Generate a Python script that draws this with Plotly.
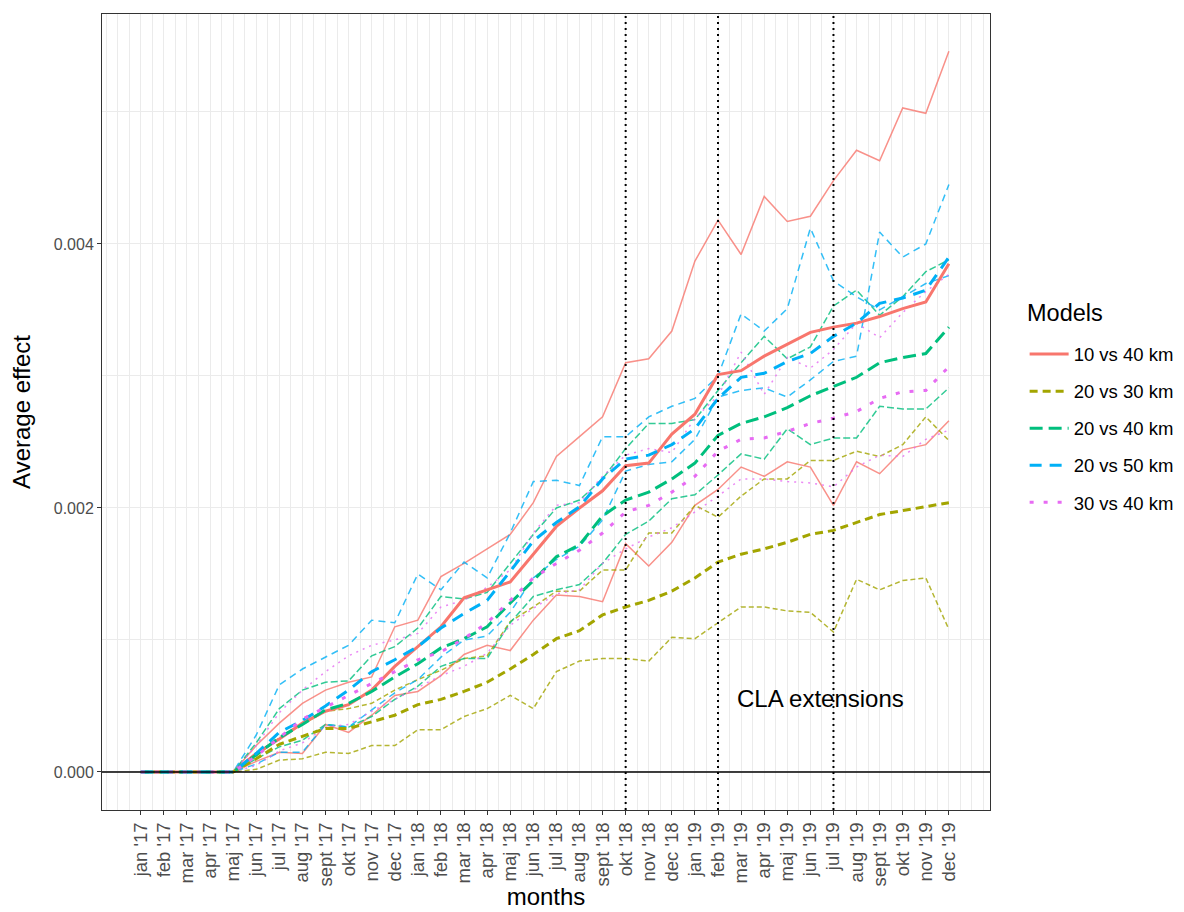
import plotly.graph_objects as go

# Month axis (Danish month abbreviations)
months = [
    "jan '17", "feb '17", "mar '17", "apr '17", "maj '17", "jun '17",
    "jul '17", "aug '17", "sept '17", "okt '17", "nov '17", "dec '17",
    "jan '18", "feb '18", "mar '18", "apr '18", "maj '18", "jun '18",
    "jul '18", "aug '18", "sept '18", "okt '18", "nov '18", "dec '18",
    "jan '19", "feb '19", "mar '19", "apr '19", "maj '19", "jun '19",
    "jul '19", "aug '19", "sept '19", "okt '19", "nov '19", "dec '19",
]
x_idx = list(range(len(months)))

# Average effect, in units of 0.001 (axis labels carry the real scale)
est_10_40 = [0, 0, 0, 0, 0, 0.14, 0.25, 0.37, 0.46, 0.51, 0.62, 0.80, 0.95, 1.10, 1.32, 1.38, 1.44, 1.65,
             1.86, 2.00, 2.13, 2.32, 2.34, 2.56, 2.71, 3.01, 3.04, 3.15, 3.24, 3.33, 3.37, 3.40, 3.45, 3.51, 3.56, 3.85]
hi_10_40 = [0, 0, 0, 0, 0, 0.20, 0.37, 0.52, 0.62, 0.68, 0.72, 1.10, 1.15, 1.48, 1.58, 1.69, 1.80, 2.04,
            2.39, 2.54, 2.69, 3.10, 3.13, 3.34, 3.87, 4.18, 3.92, 4.36, 4.17, 4.21, 4.48, 4.71, 4.63, 5.03, 4.99, 5.46]
lo_10_40 = [0, 0, 0, 0, 0, 0.08, 0.15, 0.14, 0.36, 0.30, 0.43, 0.58, 0.61, 0.73, 0.89, 0.96, 0.92, 1.15,
            1.34, 1.33, 1.29, 1.73, 1.56, 1.74, 2.02, 2.14, 2.31, 2.24, 2.35, 2.31, 2.02, 2.35, 2.26, 2.44, 2.48, 2.66]

est_20_30 = [0, 0, 0, 0, 0, 0.10, 0.21, 0.27, 0.33, 0.33, 0.38, 0.43, 0.51, 0.55, 0.61, 0.68, 0.78, 0.89,
             1.01, 1.07, 1.19, 1.25, 1.30, 1.37, 1.47, 1.59, 1.65, 1.69, 1.74, 1.80, 1.83, 1.89, 1.95, 1.98, 2.01, 2.04]
hi_20_30 = [0, 0, 0, 0, 0, 0.12, 0.26, 0.36, 0.46, 0.48, 0.52, 0.62, 0.70, 0.77, 0.86, 0.88, 1.14, 1.25,
            1.37, 1.37, 1.53, 1.53, 1.81, 1.81, 2.02, 1.93, 2.09, 2.22, 2.22, 2.36, 2.36, 2.43, 2.39, 2.48, 2.69, 2.51]
lo_20_30 = [0, 0, 0, 0, 0, 0.02, 0.09, 0.10, 0.15, 0.14, 0.20, 0.20, 0.32, 0.32, 0.42, 0.48, 0.58, 0.48,
            0.76, 0.84, 0.86, 0.86, 0.84, 1.02, 1.01, 1.13, 1.25, 1.25, 1.22, 1.21, 1.06, 1.46, 1.38, 1.45, 1.47, 1.08]

est_20_40 = [0, 0, 0, 0, 0, 0.13, 0.26, 0.36, 0.47, 0.52, 0.61, 0.72, 0.82, 0.94, 1.01, 1.10, 1.28, 1.45,
             1.63, 1.72, 1.94, 2.06, 2.12, 2.22, 2.34, 2.55, 2.64, 2.69, 2.76, 2.85, 2.92, 2.99, 3.10, 3.14, 3.17, 3.37]
hi_20_40 = [0, 0, 0, 0, 0, 0.22, 0.48, 0.62, 0.68, 0.69, 0.88, 0.95, 1.09, 1.33, 1.31, 1.36, 1.58, 1.80,
            2.00, 2.06, 2.22, 2.45, 2.64, 2.64, 2.67, 2.89, 3.10, 3.30, 3.13, 3.22, 3.53, 3.65, 3.46, 3.60, 3.79, 3.88]
lo_20_40 = [0, 0, 0, 0, 0, 0.10, 0.19, 0.24, 0.36, 0.34, 0.42, 0.55, 0.65, 0.80, 0.86, 0.86, 1.13, 1.33,
            1.38, 1.42, 1.58, 1.80, 1.90, 2.07, 2.10, 2.25, 2.41, 2.37, 2.60, 2.48, 2.53, 2.53, 2.77, 2.75, 2.75, 2.91]

est_20_50 = [0, 0, 0, 0, 0, 0.14, 0.30, 0.39, 0.50, 0.62, 0.76, 0.85, 0.95, 1.09, 1.20, 1.30, 1.52, 1.75,
             1.89, 2.01, 2.22, 2.37, 2.40, 2.48, 2.60, 2.83, 2.99, 3.02, 3.11, 3.17, 3.30, 3.40, 3.55, 3.59, 3.65, 3.90]
hi_20_50 = [0, 0, 0, 0, 0, 0.28, 0.66, 0.78, 0.87, 0.96, 1.15, 1.13, 1.50, 1.38, 1.59, 1.47, 1.81, 2.20,
            2.21, 2.17, 2.54, 2.54, 2.69, 2.77, 2.83, 3.00, 3.47, 3.34, 3.51, 4.12, 3.72, 3.60, 3.50, 3.60, 3.70, 3.76]
lo_20_50 = [0, 0, 0, 0, 0, 0.06, 0.15, 0.15, 0.36, 0.34, 0.47, 0.60, 0.70, 0.87, 1.00, 1.03, 1.21, 1.47,
            1.61, 1.71, 1.91, 2.28, 2.33, 2.35, 2.52, 2.84, 2.89, 2.91, 2.84, 2.97, 3.11, 3.15, 4.09, 3.90, 4.00, 4.45]

est_30_40 = [0, 0, 0, 0, 0, 0.12, 0.26, 0.40, 0.49, 0.58, 0.67, 0.76, 0.85, 0.91, 1.01, 1.13, 1.30, 1.47,
             1.58, 1.68, 1.81, 1.97, 2.02, 2.12, 2.24, 2.43, 2.52, 2.53, 2.58, 2.64, 2.68, 2.73, 2.83, 2.88, 2.89, 3.07]
hi_30_40 = [0, 0, 0, 0, 0, 0.20, 0.45, 0.62, 0.76, 0.88, 0.96, 1.00, 1.05, 1.25, 1.30, 1.40, 1.53, 1.81,
            2.02, 2.04, 2.24, 2.40, 2.45, 2.42, 2.68, 2.85, 3.18, 2.86, 3.14, 3.06, 3.20, 3.40, 3.29, 3.48, 3.64, 3.77]
lo_30_40 = [0, 0, 0, 0, 0, 0.05, 0.16, 0.22, 0.34, 0.36, 0.46, 0.55, 0.64, 0.73, 0.80, 0.90, 1.11, 1.24,
            1.35, 1.38, 1.58, 1.69, 1.78, 1.85, 1.97, 2.09, 2.22, 2.22, 2.20, 2.19, 2.16, 2.31, 2.40, 2.39, 2.52, 2.59]

y_tickvals = [0, 2, 4]
y_ticktext = ["0.000", "0.002", "0.004"]

cla_extensions = ["okt '18", "feb '19", "jul '19"]

# name, colour, estimate, upper, lower, thick dash, thin dash
MODELS = [
    ("10 vs 40 km", "#F8766D", est_10_40, hi_10_40, lo_10_40, "solid", "solid"),
    ("20 vs 30 km", "#A3A500", est_20_30, hi_20_30, lo_20_30, "8px,5px", "5px,3px"),
    ("20 vs 40 km", "#00BF7D", est_20_40, hi_20_40, lo_20_40, "13px,6px", "7px,3px"),
    ("20 vs 50 km", "#00B0F6", est_20_50, hi_20_50, lo_20_50, "12px,8px", "7px,5px"),
    ("30 vs 40 km", "#E76BF3", est_30_40, hi_30_40, lo_30_40, "4px,10px", "2px,5px"),
]

FONT = "Liberation Sans, Arial, sans-serif"
GRID = "#EBEBEB"
DARK = "#333333"

fig = go.Figure()

# thin bound lines underneath
for name, color, est, hi, lo, dash, thin_dash in MODELS:
    for bound in (hi, lo):
        fig.add_trace(go.Scatter(
            x=x_idx, y=bound, mode="lines", name=name, legendgroup=name,
            showlegend=False, opacity=0.8,
            line=dict(color=color, width=1.5, dash=thin_dash),
            hoverinfo="skip",
        ))

# estimates on top
for name, color, est, hi, lo, dash, thin_dash in MODELS:
    fig.add_trace(go.Scatter(
        x=x_idx, y=est, mode="lines", name=name, legendgroup=name,
        line=dict(color=color, width=3, dash=dash),
        customdata=months,
        hovertemplate="<b>" + name + "</b><br>%{customdata}<br>%{y:.2f}e-3<extra></extra>",
    ))

fig.add_hline(y=0, line=dict(color="black", width=1.5))
for m in cla_extensions:
    fig.add_vline(x=months.index(m), line=dict(color="black", width=2, dash="2px,4px"))

fig.add_annotation(
    x=29.45, y=0.56, text="CLA extensions", showarrow=False,
    font=dict(family=FONT, size=24, color="black"),
)

# legend title
fig.add_annotation(
    x=1.0395, y=0.6244, xref="paper", yref="paper", xanchor="left", yanchor="middle",
    text="Models", showarrow=False, font=dict(family=FONT, size=23.5, color="black"),
)

x_minor = [v / 2 for v in range(-3, 74)]

fig.update_layout(
    width=1184, height=912,
    margin=dict(l=94, r=202, t=6, b=110),
    plot_bgcolor="white", paper_bgcolor="white",
    font=dict(family=FONT, color="black"),
    legend=dict(
        x=1.039, y=0.596, xanchor="left", yanchor="top",
        font=dict(size=18.5), tracegroupgap=10, itemwidth=39,
        traceorder="grouped",
    ),
    xaxis=dict(
        range=[-1.68, 36.78], tickmode="array", tickvals=x_idx, ticktext=months,
        tickangle=-90, ticks="outside", ticklen=4, tickcolor=DARK,
        tickfont=dict(size=18.5, color="#4D4D4D"),
        showgrid=True, gridcolor=GRID, gridwidth=1.2,
        minor=dict(tickmode="array", tickvals=x_minor, showgrid=True, gridcolor=GRID, gridwidth=0.6),
        showline=True, linecolor=DARK, linewidth=1, mirror=True, zeroline=False,
        title=dict(text="months", font=dict(size=24), standoff=2),
    ),
    yaxis=dict(
        range=[-0.288, 5.742], tickmode="array", tickvals=y_tickvals, ticktext=y_ticktext,
        ticks="outside", ticklen=4, tickcolor=DARK,
        tickfont=dict(size=16, color="#4D4D4D"),
        showgrid=True, gridcolor=GRID, gridwidth=1.2,
        minor=dict(tickmode="array", tickvals=[1, 3, 5], showgrid=True, gridcolor=GRID, gridwidth=0.6),
        showline=True, linecolor=DARK, linewidth=1, mirror=True, zeroline=False,
        title=dict(text="Average effect", font=dict(size=24), standoff=22),
    ),
)

fig.write_html("out.html")
